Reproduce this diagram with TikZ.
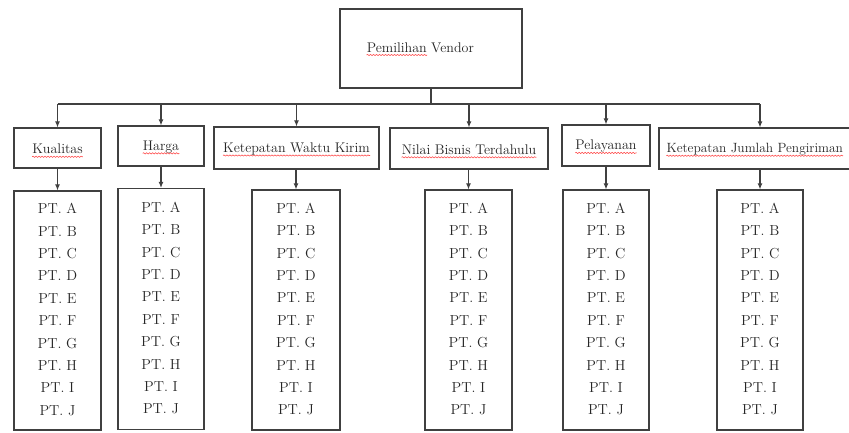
\documentclass[tikz,border=0pt]{standalone}
\usepackage{graphicx}
\usetikzlibrary{arrows.meta,decorations.pathmorphing}
\begin{document}
\begin{tikzpicture}[x=1pt,y=-1pt,
  box/.style={draw=black!75,line width=1.2pt,inner sep=0pt,fill=white},
  lbl/.style={inner sep=0pt,font=\fontsize{14}{19}\selectfont,text=black!85},
  list/.style={inner sep=0pt,align=center,font=\fontsize{14.5}{22.4}\selectfont,text=black!85},
  conn/.style={draw=black!75,line width=1.1pt},
  arr/.style={conn,-{Latex[length=6pt,width=5pt]}},
  wavy/.style={draw=red!70,line width=0.6pt,decorate,decoration={snake,amplitude=0.6pt,segment length=3pt}}
]
\useasboundingbox (0,0) rectangle (849,432);
\fill[white] (0,0) rectangle (849,432);

% top box
\node[box,minimum width=182pt,minimum height=79pt] (top) at (431,48.5) {};
\node[lbl,anchor=base east] (topa) at (427,52) {Pemilihan};
\node[lbl,anchor=base west] (topb) at (431,52) {Vendor};
\draw[wavy] ([yshift=-3pt]topa.base west) -- ([yshift=-3pt]topa.base east);

% level 2
\node[box,minimum width=87pt,minimum height=40pt] (k1) at (57.5,148) {};
\node[box,minimum width=86pt,minimum height=40pt] (k2) at (161,146) {};
\node[box,minimum width=165pt,minimum height=42pt] (k3) at (296.5,148) {};
\node[box,minimum width=158pt,minimum height=41pt] (k4) at (469,148.5) {};
\node[box,minimum width=88pt,minimum height=41pt] (k5) at (606,145.5) {};
\node[box,minimum width=202pt,minimum height=41pt] (k6) at (760,148.5) {};

\foreach \n/\t in {k1/Kualitas,k2/Harga,k3/Ketepatan Waktu Kirim,k4/Nilai Bisnis Terdahulu,k5/Pelayanan}{
  \node[lbl] (\n t) at ([yshift=-1pt]\n.center) {\t};
  \draw[wavy] ([yshift=-3pt]\n t.base west) -- ([yshift=-3pt]\n t.base east);
}
\node[lbl,anchor=west,font=\fontsize{13.4}{19}\selectfont] (k6t) at ([xshift=8pt,yshift=-1pt]k6.west) {Ketepatan Jumlah Pengiriman};
\draw[wavy] ([yshift=-3pt]k6t.base west) -- ([yshift=-3pt]k6t.base east);

% level 3
\node[box,minimum width=87pt,minimum height=239pt] (c1) at (57.5,310.5) {};
\node[box,minimum width=86pt,minimum height=241pt] (c2) at (161,309) {};
\node[box,minimum width=88pt,minimum height=240pt] (c3) at (296,310) {};
\node[box,minimum width=87pt,minimum height=240pt] (c4) at (468.5,310) {};
\node[box,minimum width=86pt,minimum height=240pt] (c5) at (606,310) {};
\node[box,minimum width=86pt,minimum height=240pt] (c6) at (760,310) {};
\foreach \n in {c1,c2,c3,c4,c5,c6}{
  \node[list] (\n t) at ([yshift=1pt]\n.center) {PT. A\\PT. B\\PT. C\\PT. D\\PT. E\\PT. F\\PT. G\\PT. H\\PT. I\\PT. J};
}

% connectors
\coordinate (bus) at (431,104);
\draw[conn] (top.south) -- (bus);
\draw[conn] (k1.north |- bus) -- (k6.north |- bus);
\foreach \n in {k1,k2,k3,k4,k5,k6}{
  \draw[arr] (\n.north |- bus) -- (\n.north);
}
\draw[arr] (k1.south) -- (c1.north);
\draw[arr] (k2.south) -- (c2.north);
\draw[arr] (k3.south -| c3.north) -- (c3.north);
\draw[arr] (k4.south -| c4.north) -- (c4.north);
\draw[arr] (k5.south) -- (c5.north);
\draw[arr] (k6.south) -- (c6.north);
\end{tikzpicture}
\end{document}
